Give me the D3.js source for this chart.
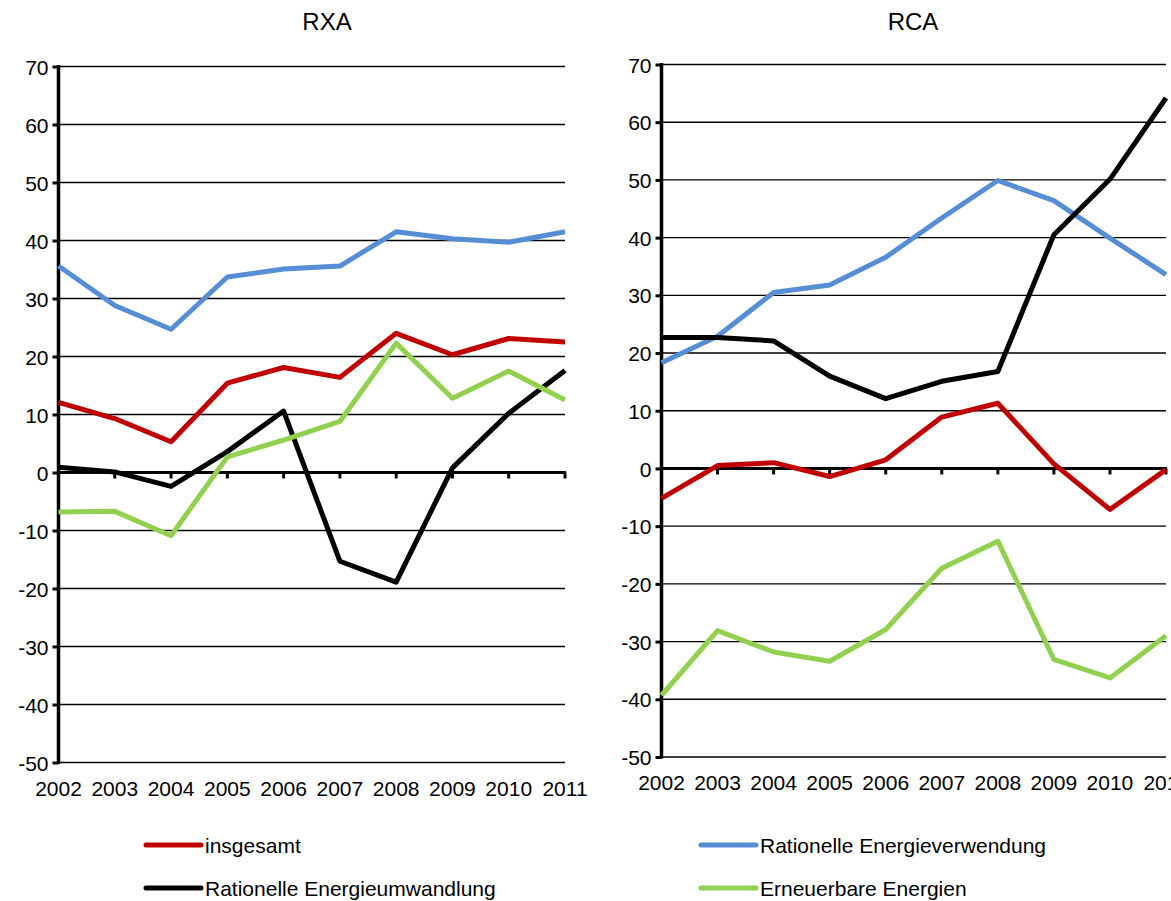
<!DOCTYPE html>
<html>
<head>
<meta charset="utf-8">
<script src="https://cdn.jsdelivr.net/npm/d3@7"></script>
<style>
  body { margin: 0; background: #fff; }
  svg text { font-family: Arial, "Liberation Sans", sans-serif; fill: #000; }
</style>
</head>
<body>
<div id="chart"></div>
<script>
// data
var years = [2002, 2003, 2004, 2005, 2006, 2007, 2008, 2009, 2010, 2011]
var yTicks = [70, 60, 50, 40, 30, 20, 10, 0, -10, -20, -30, -40, -50]

var seriesNames = ['insgesamt', 'Rationelle Energieverwendung', 'Rationelle Energieumwandlung', 'Erneuerbare Energien']
var seriesColors = ['#C00000', '#558ED5', '#000000', '#92D050']

// RXA
var rxaInsgesamt   = [12.1, 9.3, 5.3, 15.4, 18.1, 16.4, 24.0, 20.3, 23.1, 22.5]
var rxaVerwendung  = [35.6, 28.8, 24.7, 33.7, 35.1, 35.6, 41.5, 40.3, 39.7, 41.5]
var rxaUmwandlung  = [0.9, 0.1, -2.4, 3.6, 10.6, -15.3, -18.9, 0.8, 10.2, 17.6]
var rxaErneuerbar  = [-6.8, -6.7, -10.9, 2.7, 5.6, 8.8, 22.3, 12.8, 17.5, 12.5]

// RCA
var rcaInsgesamt   = [-5.2, 0.5, 1.0, -1.4, 1.5, 8.9, 11.3, 0.8, -7.1, -0.2]
var rcaVerwendung  = [18.3, 22.9, 30.5, 31.8, 36.6, 43.4, 49.9, 46.4, 39.9, 33.6]
var rcaUmwandlung  = [22.7, 22.7, 22.1, 16.0, 12.1, 15.1, 16.8, 40.5, 50.1, 64.2]
var rcaErneuerbar  = [-39.3, -28.1, -31.8, -33.4, -27.9, -17.3, -12.6, -33.1, -36.3, -29.0]

var W = 1171, H = 901
var svg = d3.select('#chart').append('svg')
  .attr('width', W).attr('height', H)

var panels = [
  {title: 'RXA', titleX: 327, titleY: 30, x0: 58.5, x1: 565, yTop: 66.5, yBot: 762.5,
   data: [rxaInsgesamt, rxaVerwendung, rxaUmwandlung, rxaErneuerbar]},
  {title: 'RCA', titleX: 913, titleY: 30, x0: 661.5, x1: 1166, yTop: 64.5, yBot: 757,
   data: [rcaInsgesamt, rcaVerwendung, rcaUmwandlung, rcaErneuerbar]}
]

panels.forEach(function(p){
  var x = d3.scalePoint().domain(years).range([p.x0, p.x1])
  var y = d3.scaleLinear().domain([-50, 70]).range([p.yBot, p.yTop])
  var g = svg.append('g')

  // gridlines
  g.selectAll('line.grid')
    .data(yTicks.filter(function(d){ return d != 0 }))
    .enter().append('line')
      .attr('x1', p.x0).attr('x2', p.x1)
      .attr('y1', function(d){ return y(d) }).attr('y2', function(d){ return y(d) })
      .attr('stroke', '#000').attr('stroke-width', 1.4)

  // y axis (plain hyphen for negatives, like the original)
  var yAxis = d3.axisLeft(y).tickValues(yTicks).tickSize(6).tickPadding(4)
    .tickFormat(function(d){ return String(d) })
  var ya = g.append('g').attr('transform', 'translate(' + p.x0 + ',0)').call(yAxis)
  ya.select('.domain').remove()
  ya.selectAll('.tick line').attr('stroke', '#000').attr('stroke-width', 3)
  ya.selectAll('.tick text').style('font-size', '21px').attr('dy', '0.36em')
  g.append('line')
    .attr('x1', p.x0).attr('x2', p.x0)
    .attr('y1', y(70) - 1.5).attr('y2', y(-50) + 1.5)
    .attr('stroke', '#000').attr('stroke-width', 3.5)

  // zero line with ticks
  g.append('line')
    .attr('x1', p.x0).attr('x2', p.x1 + 1)
    .attr('y1', y(0)).attr('y2', y(0))
    .attr('stroke', '#000').attr('stroke-width', 3)
  g.selectAll('line.xt')
    .data(years.slice(1))
    .enter().append('line')
      .attr('x1', function(d){ return x(d) }).attr('x2', function(d){ return x(d) })
      .attr('y1', y(0)).attr('y2', y(0) + 6)
      .attr('stroke', '#000').attr('stroke-width', 3)

  // x labels at bottom
  g.selectAll('text.xl')
    .data(years)
    .enter().append('text')
      .attr('x', function(d){ return x(d) })
      .attr('y', p.yBot + 33)
      .attr('text-anchor', 'middle')
      .style('font-size', '21px')
      .text(function(d){ return d })

  // title
  g.append('text')
    .attr('x', p.titleX).attr('y', p.titleY)
    .attr('text-anchor', 'middle')
    .style('font-size', '24px')
    .text(p.title)

  // series
  var line = d3.line()
    .x(function(d, i){ return x(years[i]) })
    .y(function(d){ return y(d) })
  p.data.forEach(function(vals, i){
    g.append('path')
      .datum(vals)
      .attr('d', line)
      .attr('fill', 'none')
      .attr('stroke', seriesColors[i])
      .attr('stroke-width', 5)
      .attr('stroke-linejoin', 'round')
  })
})

// legend
var legendPos = [[146, 845], [701, 845], [146, 888], [701, 888]]
seriesNames.forEach(function(name, i){
  var lg = svg.append('g').attr('transform', 'translate(' + legendPos[i][0] + ',' + legendPos[i][1] + ')')
  lg.append('line')
    .attr('x1', 0).attr('x2', 55)
    .attr('stroke', seriesColors[i]).attr('stroke-width', 5)
    .attr('stroke-linecap', 'round')
  lg.append('text')
    .attr('x', 59).attr('y', 7.5)
    .style('font-size', '21px')
    .text(name)
})
</script>
</body>
</html>
